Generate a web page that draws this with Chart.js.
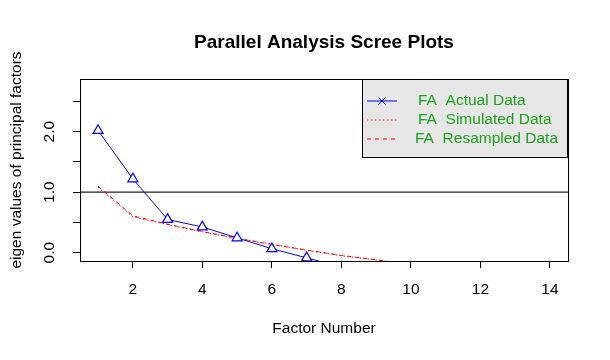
<!DOCTYPE html>
<html>
<head>
<meta charset="utf-8">
<script src="https://cdn.jsdelivr.net/npm/chart.js@4.4.1/dist/chart.umd.min.js"></script>
<style>
  html, body { margin: 0; padding: 0; background: #fff; }
</style>
</head>
<body>
<canvas id="scree" width="610" height="360"></canvas>
<script>
// ---- data ----
const factors     = [1, 2, 3, 4, 5, 6, 7, 8, 9, 10, 11, 12, 13, 14];
const actualFA    = [2.02, 1.22, 0.55, 0.425, 0.245, 0.065, -0.085, -0.24, -0.32, -0.4, -0.47, -0.54, -0.6, -0.66];
const simulatedFA = [1.08, 0.595, 0.465, 0.345, 0.235, 0.14, 0.04, -0.05, -0.12, -0.2, -0.26, -0.32, -0.38, -0.44];
const resampledFA = [1.1, 0.61, 0.47, 0.35, 0.24, 0.135, 0.045, -0.045, -0.115, -0.195, -0.255, -0.315, -0.375, -0.435];
const xTicks = [2, 4, 6, 8, 10, 12, 14];
const yTicks = [0, 0.5, 1, 1.5, 2, 2.5];
const yTickLabels = ['0.0', '', '1.0', '', '2.0', ''];
const legendLabels = ['FA  Actual Data', 'FA  Simulated Data', 'FA  Resampled Data'];
const cutoff = 1;

const FONT = '"Liberation Sans", Arial, sans-serif';
const BLUE = '#0000ff', RED = '#ff0000', GREEN = '#1ea01e';

const pts = ys => factors.map((f, i) => ({ x: f, y: ys[i] }));

// box, cutoff line, rotated y labels, y title and the legend
const screeDecor = {
  id: 'screeDecor',
  beforeDatasetsDraw(chart) {
    const { ctx, chartArea: a, scales: { y } } = chart;
    const py = y.getPixelForValue(cutoff);
    ctx.save();
    ctx.strokeStyle = '#222';
    ctx.lineWidth = 1.3;
    ctx.beginPath();
    ctx.moveTo(a.left, py);
    ctx.lineTo(a.right, py);
    ctx.stroke();
    ctx.restore();
  },
  afterDraw(chart) {
    const { ctx, chartArea: a, scales: { y } } = chart;
    ctx.save();
    // plot frame
    ctx.strokeStyle = '#000';
    ctx.lineWidth = 1;
    ctx.strokeRect(Math.round(a.left) + 0.5, Math.round(a.top) + 0.5,
                   Math.round(a.right - a.left), Math.round(a.bottom - a.top));

    // y tick labels, parallel to the axis
    ctx.fillStyle = '#000';
    ctx.font = '15.5px ' + FONT;
    ctx.textAlign = 'center';
    ctx.textBaseline = 'middle';
    yTicks.forEach((v, i) => {
      if (!yTickLabels[i]) return;
      ctx.save();
      ctx.translate(50, y.getPixelForValue(v));
      ctx.rotate(-Math.PI / 2);
      ctx.fillText(yTickLabels[i], 0, 0);
      ctx.restore();
    });

    // y axis title
    ctx.save();
    ctx.translate(16.5, 160);
    ctx.rotate(-Math.PI / 2);
    ctx.fillText('eigen values of principal factors', 0, 0);
    ctx.restore();

    // legend (topright, inside the plot)
    const lx = 362, ly = a.top, lw = a.right - lx, lh = 79;
    ctx.fillStyle = '#e6e6e6';
    ctx.fillRect(lx, ly, lw, lh);
    ctx.strokeStyle = '#000';
    ctx.strokeRect(lx + 0.5, ly + 0.5, lw - 1, lh - 1);

    const rowY = [ly + 21.5, ly + 40.5, ly + 59.5];
    const textX = [418, 418, 415];
    chart.data.datasets.forEach((ds, i) => {
      ctx.strokeStyle = ds.borderColor;
      ctx.lineWidth = 1;
      ctx.setLineDash(ds.borderDash || []);
      ctx.beginPath();
      ctx.moveTo(367, rowY[i] + 0.5);
      ctx.lineTo(397, rowY[i] + 0.5);
      ctx.stroke();
      ctx.setLineDash([]);
      if (i === 0) {
        const cx = 382, cy = rowY[i] + 0.5, r = 3.5;
        ctx.beginPath();
        ctx.moveTo(cx - r, cy - r); ctx.lineTo(cx + r, cy + r);
        ctx.moveTo(cx - r, cy + r); ctx.lineTo(cx + r, cy - r);
        ctx.stroke();
      }
      ctx.fillStyle = GREEN;
      ctx.textAlign = 'left';
      ctx.fillText(legendLabels[i], textX[i], rowY[i]);
    });
    ctx.restore();
  }
};

new Chart(document.getElementById('scree'), {
  type: 'line',
  data: {
    datasets: [
      {
        label: legendLabels[0],
        data: pts(actualFA),
        borderColor: BLUE,
        borderWidth: 1,
        pointStyle: 'triangle',
        pointRadius: 5.8,
        pointBorderColor: BLUE,
        pointBackgroundColor: '#fff',
        pointBorderWidth: 1.2,
        tension: 0,
      },
      {
        label: legendLabels[1],
        data: pts(simulatedFA),
        borderColor: RED,
        borderWidth: 1,
        borderDash: [1.5, 2.5],
        pointRadius: 0,
        tension: 0,
      },
      {
        label: legendLabels[2],
        data: pts(resampledFA),
        borderColor: RED,
        borderWidth: 1,
        borderDash: [4, 4],
        pointRadius: 0,
        tension: 0,
      },
    ]
  },
  options: {
    responsive: false,
    animation: false,
    layout: { padding: { left: 0, right: 42, top: 0, bottom: 0 } },
    plugins: {
      legend: { display: false },
      tooltip: { enabled: false },
      title: {
        display: true,
        text: 'Parallel Analysis Scree Plots',
        fullSize: false,
        color: '#000',
        font: { family: FONT, size: 19, weight: 'bold' },
        padding: { top: 31.5, bottom: 24.7 },
      },
    },
    scales: {
      x: {
        type: 'linear',
        min: 0.48, max: 14.52,
        afterBuildTicks: s => { s.ticks = xTicks.map(v => ({ value: v })); },
        afterFit: s => { s.height = 99; },
        border: { display: false },
        grid: { drawOnChartArea: false, drawTicks: true, tickLength: 7, color: '#000' },
        ticks: { color: '#000', font: { family: FONT, size: 15.5 }, padding: 12.7, maxRotation: 0, autoSkip: false },
        title: {
          display: true, text: 'Factor Number', color: '#000',
          font: { family: FONT, size: 15.5 }, padding: { top: 0, bottom: 21.7 },
        },
      },
      y: {
        type: 'linear',
        min: -0.137, max: 2.871,
        afterBuildTicks: s => { s.ticks = yTicks.map(v => ({ value: v })); },
        afterFit: s => { s.width = 80; },
        border: { display: false },
        grid: { drawOnChartArea: false, drawTicks: true, tickLength: 7, color: '#000' },
        ticks: { display: false },
      },
    },
  },
  plugins: [screeDecor],
});
</script>
</body>
</html>
